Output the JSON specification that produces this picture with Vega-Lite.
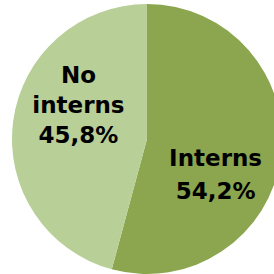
{
  "$schema": "https://vega.github.io/schema/vega-lite/v6.json",
  "width": 294,
  "height": 278,
  "padding": 0,
  "autosize": {"type": "none"},
  "background": "white",
  "data": {"values": [
    {"category": "Interns", "value": 54.2, "label": "Interns\n54,2%"},
    {"category": "No interns", "value": 45.8, "label": "No\ninterns\n45,8%"}
  ]},
  "encoding": {
    "theta": {"field": "value", "type": "quantitative", "stack": true},
    "color": {"field": "category", "type": "nominal", "legend": null,
      "scale": {"domain": ["Interns", "No interns"], "range": ["#8ba64e", "#b8cf98"]}}
  },
  "layer": [
    {"mark": {"type": "arc", "outerRadius": 135}},
    {"mark": {"type": "text", "radius": 77, "thetaOffset": 0.34, "dy": -15, "font": "DejaVu Sans", "fontWeight": "bold", "fontSize": 23, "lineBreak": "\n", "lineHeight": 33, "align": "center", "baseline": "middle", "fill": "black"},
      "encoding": {"text": {"condition": {"test": "datum.category === 'Interns'", "field": "label"}, "value": ""}, "color": {"value": "black"}}},
    {"mark": {"type": "text", "radius": 77, "thetaOffset": 0.34, "dy": -28, "font": "DejaVu Sans", "fontWeight": "bold", "fontSize": 23, "lineBreak": "\n", "lineHeight": 30, "align": "center", "baseline": "middle", "fill": "black"},
      "encoding": {"text": {"condition": {"test": "datum.category === 'No interns'", "field": "label"}, "value": ""}, "color": {"value": "black"}}}
  ],
  "config": {"view": {"stroke": null}}
}
